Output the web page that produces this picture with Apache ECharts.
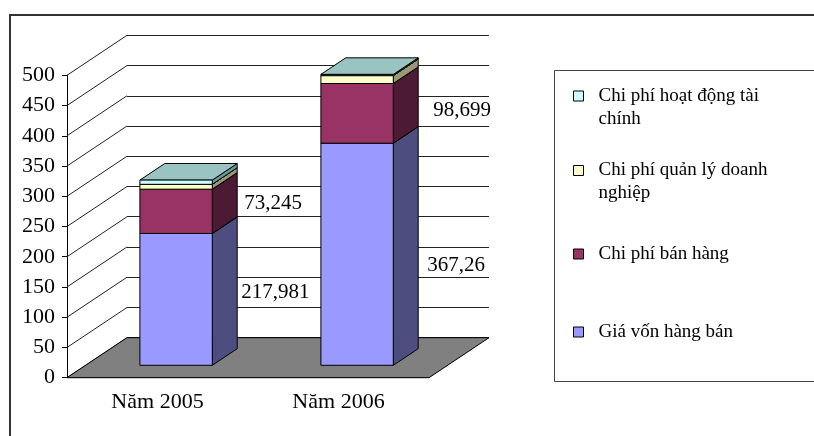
<!DOCTYPE html>
<html><head><meta charset="utf-8">
<script src="https://cdn.jsdelivr.net/npm/echarts@6/dist/echarts.min.js"></script>
<style>html,body{margin:0;padding:0;background:#fff}#c{width:814px;height:436px}</style>
</head><body><div id="c"></div>
<script>
// ---- data ----
const categories = ['Năm 2005', 'Năm 2006'];
const giaVonHangBan = [217.981, 367.26];
const chiPhiBanHang = [73.245, 98.699];
const chiPhiQuanLy = [8, 13];
const chiPhiTaiChinh = [7, 2];
const yTicks = [0, 50, 100, 150, 200, 250, 300, 350, 400, 450, 500];
const seriesNames = ['Giá vốn hàng bán', 'Chi phí bán hàng', 'Chi phí quản lý doanh nghiệp', 'Chi phí hoạt động tài chính'];

// ---- style ----
const FONT = 'Liberation Serif';
const DEPTH_X = 60, DEPTH_Y = -40;       // full depth of the 3D box
const FRONT = 0.31, BACK = 0.725;        // bar depth span
const seriesStyle = [
  { front: '#9999FF', side: '#4D4D80', top: '#7A7ACC', label: true },
  { front: '#993366', side: '#4D1A33', top: '#7A2952', label: true },
  { front: '#FFFFCC', side: '#999977', top: '#CCCCA3' },
  { front: '#CCFFFF', side: '#669999', top: '#99C4C1' }
];
const labelNudge = [ [[4, 1], [9, 20]], [[7, 0], [15, 5]] ];

const values = [giaVonHangBan, chiPhiBanHang, chiPhiQuanLy, chiPhiTaiChinh];
const fmt = v => String(v).replace('.', ',');

function barRenderer(si) {
  const st = seriesStyle[si];
  return function (params, api) {
    const cat = api.value(0), lo = api.value(1), hi = api.value(2), raw = api.value(3);
    const band = api.size([1, 0])[0];
    const pb = api.coord([cat, lo]);
    const pt = api.coord([cat, hi]);
    const fw = band * 0.4;
    const ox = DEPTH_X * FRONT, oy = DEPTH_Y * FRONT;
    const dx = DEPTH_X * (BACK - FRONT), dy = DEPTH_Y * (BACK - FRONT);
    const x0 = pb[0] - fw / 2 + ox, x1 = x0 + fw;
    const yb = pb[1] + oy, yt = pt[1] + oy;
    const stroke = { stroke: '#000', lineWidth: 1 };
    const children = [
      { type: 'polygon', shape: { points: [[x1, yb], [x1 + dx, yb + dy], [x1 + dx, yt + dy], [x1, yt]] },
        style: Object.assign({ fill: st.side }, stroke) },
      { type: 'polygon', shape: { points: [[x0, yt], [x1, yt], [x1 + dx, yt + dy], [x0 + dx, yt + dy]] },
        style: Object.assign({ fill: st.top }, stroke) },
      { type: 'rect', shape: { x: x0, y: yt, width: fw, height: yb - yt },
        style: Object.assign({ fill: st.front }, stroke) }
    ];
    if (st.label) {
      const n = labelNudge[si][params.dataIndex];
      children.push({ type: 'text', z2: 50,
        style: { x: x1 + dx + n[0], y: (yb + yt) / 2 + dy / 2 + n[1], text: fmt(raw),
          fill: '#000', font: '21px "' + FONT + '"', align: 'left', verticalAlign: 'middle' } });
    }
    return { type: 'group', children };
  };
}

const barSeries = values.map((arr, si) => ({
  type: 'custom', name: seriesNames[si], xAxisIndex: 0, yAxisIndex: 0, z: 5,
  itemStyle: { color: seriesStyle[si].front },
  renderItem: barRenderer(si),
  data: arr.map((v, ci) => {
    let base = 0;
    for (let k = 0; k < si; k++) base += values[k][ci];
    return [ci, base, base + v, v];
  })
}));

const floorSeries = {
  type: 'custom', xAxisIndex: 0, yAxisIndex: 0, z: 2, silent: true,
  data: [[0, 0]],
  renderItem: function (params, api) {
    const cs = params.coordSys;
    const p0 = api.coord([0, 0]);
    const yb = p0[1];
    return { type: 'polygon',
      shape: { points: [[cs.x, yb], [cs.x + cs.width, yb], [cs.x + cs.width + DEPTH_X, yb + DEPTH_Y], [cs.x + DEPTH_X, yb + DEPTH_Y]] },
      style: { fill: '#808080', stroke: '#000', lineWidth: 1 } };
  }
};

const wallSeries = {
  type: 'custom', xAxisIndex: 0, yAxisIndex: 0, z: 1, silent: true,
  data: yTicks.map(v => [0, v]),
  renderItem: function (params, api) {
    const cs = params.coordSys;
    const p = api.coord([0, api.value(1)]);
    return { type: 'line',
      shape: { x1: cs.x, y1: p[1], x2: cs.x + DEPTH_X, y2: p[1] + DEPTH_Y },
      style: { stroke: '#222', lineWidth: 1 } };
  }
};

const legendItems = [
  { name: seriesNames[3], text: ' \nChi phí hoạt động tài\nchính', top: 61.5 },
  { name: seriesNames[2], text: ' \nChi phí quản lý doanh\nnghiệp', top: 136 },
  { name: seriesNames[1], text: 'Chi phí bán hàng', top: 242.5 },
  { name: seriesNames[0], text: 'Giá vốn hàng bán', top: 320.5 }
];

const option = {
  animation: false,
  backgroundColor: '#fff',
  grid: [
    { left: 67, top: 75.3, width: 362, height: 302.4 },
    { left: 127, top: 35.3, width: 362, height: 302.4 }
  ],
  xAxis: [
    { type: 'category', gridIndex: 0, data: categories,
      axisLine: { lineStyle: { color: '#000', width: 1 } },
      axisTick: { length: 5, lineStyle: { color: '#000' } },
      axisLabel: { color: '#000', fontFamily: FONT, fontSize: 22, margin: 14 } },
    { type: 'category', gridIndex: 1, data: categories, show: false }
  ],
  yAxis: [
    { type: 'value', gridIndex: 0, min: 0, max: 500, interval: 50,
      axisLine: { show: true, lineStyle: { color: '#000', width: 1 } },
      axisTick: { show: true, length: 5, lineStyle: { color: '#000' } },
      splitLine: { show: false },
      axisLabel: { color: '#000', fontFamily: FONT, fontSize: 22, margin: 12 } },
    { type: 'value', gridIndex: 1, min: 0, max: 500, interval: 50,
      axisLine: { show: false }, axisTick: { show: false }, axisLabel: { show: false },
      splitLine: { show: true, lineStyle: { color: '#222', width: 1 } } }
  ],
  legend: legendItems.map(it => ({
    data: [it.name], orient: 'vertical', left: 573, top: it.top, padding: 0,
    icon: 'rect', itemWidth: 10, itemHeight: 10,
    itemStyle: { borderColor: '#000', borderWidth: 1 },
    selectedMode: false,
    formatter: () => it.text,
    textStyle: { color: '#000', fontFamily: FONT, fontSize: 19, lineHeight: 23, padding: [0, 0, 0, 10] }
  })),
  graphic: [
    { type: 'rect', z: 100, silent: true, shape: { x: 10, y: 15, width: 900, height: 600 },
      style: { fill: 'none', stroke: '#333', lineWidth: 2 } },
    { type: 'rect', z: 100, silent: true, shape: { x: 554.5, y: 70.5, width: 400, height: 311 },
      style: { fill: 'none', stroke: '#444', lineWidth: 1 } }
  ],
  series: [wallSeries, floorSeries].concat(barSeries)
};

const chart = echarts.init(document.getElementById('c'), null, { renderer: 'canvas' });
chart.setOption(option);
</script></body></html>
